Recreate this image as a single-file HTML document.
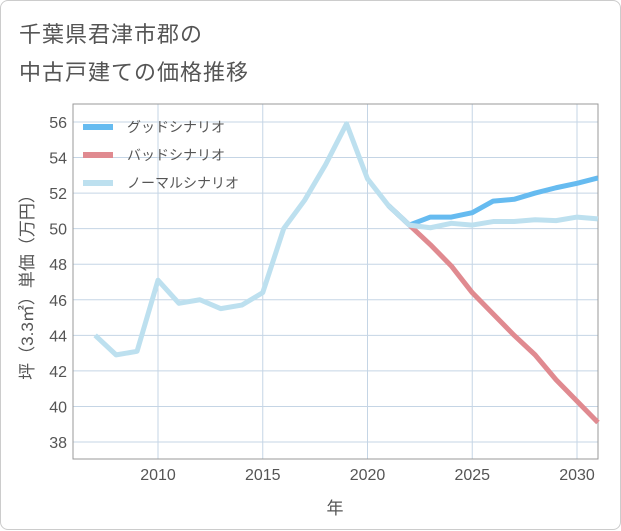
<!DOCTYPE html>
<html><head><meta charset="utf-8">
<style>
body{margin:0;background:#fff;font-family:"Liberation Sans","Noto Sans CJK JP",sans-serif;}
#card{position:absolute;left:0;top:0;width:619px;height:528px;border:1px solid #ccc;border-radius:8px;background:#fff;}
.title{position:absolute;left:18px;font-size:22px;color:#555;letter-spacing:1px;}
</style></head><body>
<div id="card">
<div class="title" style="top:16px">千葉県君津市郡の</div>
<div class="title" style="top:54px">中古戸建ての価格推移</div>
<svg id="chart" width="621" height="530" style="position:absolute;left:0;top:0"></svg>
</div>
<script>
const years=[2007,2008,2009,2010,2011,2012,2013,2014,2015,2016,2017,2018,2019,2020,2021,2022,2023,2024,2025,2026,2027,2028,2029,2030,2031];
const normal=[44.0,42.9,43.1,47.1,45.8,46.0,45.5,45.7,46.4,50.0,51.6,53.6,55.9,52.8,51.3,50.2,50.05,50.3,50.2,50.4,50.4,50.5,50.45,50.65,50.55];
const goodYears=[2021,2022,2023,2024,2025,2026,2027,2028,2029,2030,2031];
const good=[51.3,50.2,50.65,50.65,50.9,51.55,51.65,52.0,52.3,52.55,52.85];
const bad=[51.3,50.2,49.1,47.9,46.4,45.2,44.0,42.9,41.5,40.3,39.1];
const xTicks=[2010,2015,2020,2025,2030];
const yTicks=[38,40,42,44,46,48,50,52,54,56];
const L=72,R=597,T=103,B=458;
const x=v=>157+(v-2010)*20.95;
const y=v=>441-(v-38)*17.78;
const svg=document.getElementById('chart');const NS='http://www.w3.org/2000/svg';
function el(t,a,p){const e=document.createElementNS(NS,t);for(const k in a)e.setAttribute(k,a[k]);(p||svg).appendChild(e);return e;}
const grid=el('g',{});


yTicks.forEach(v=>{el('line',{x1:L,x2:R,y1:y(v),y2:y(v),stroke:'#c5d5e5','stroke-width':1},grid);
const t=el('text',{x:L-6,y:y(v)+6,'text-anchor':'end','font-size':16,fill:'#555'});t.textContent=v;

});
xTicks.forEach(v=>{el('line',{x1:x(v),x2:x(v),y1:T,y2:B,stroke:'#c5d5e5','stroke-width':1},grid);
const t=el('text',{x:x(v),y:B+21,'text-anchor':'middle','font-size':16,fill:'#555'});t.textContent=v;

});
const frame=el('rect',{x:L,y:T,width:R-L,height:B-T,fill:'none',stroke:'#999','stroke-width':1});


function line(xs,vs,c,name){const p=el('polyline',{points:xs.map((yr,i)=>x(yr)+','+y(vs[i])).join(' '),fill:'none',stroke:c,'stroke-width':5,'stroke-linejoin':'round'});

}
line(goodYears,bad,'#e08a90','bad-scenario-line');
line(goodYears,good,'#66bbf0','good-scenario-line');
line(years,normal,'#bde0ef','normal-scenario-line');
const leg=[['グッドシナリオ','#66bbf0'],['バッドシナリオ','#e08a90'],['ノーマルシナリオ','#bde0ef']];
leg.forEach((d,i)=>{const g=el('g',{});


const yy=126+i*28;el('line',{x1:82,x2:112,y1:yy,y2:yy,stroke:d[1],'stroke-width':6},g);
const t=el('text',{x:126,y:yy+5,'font-size':14,fill:'#555'},g);t.textContent=d[0];});
const xt=el('text',{x:334,y:513,'text-anchor':'middle','font-size':17,fill:'#555'});xt.textContent='年';


const yt=el('text',{x:0,y:0,'text-anchor':'middle','font-size':17,fill:'#555',transform:'translate(32,282) rotate(-90)'});yt.textContent='坪（3.3㎡）単価（万円）';


</script>
</body></html>
